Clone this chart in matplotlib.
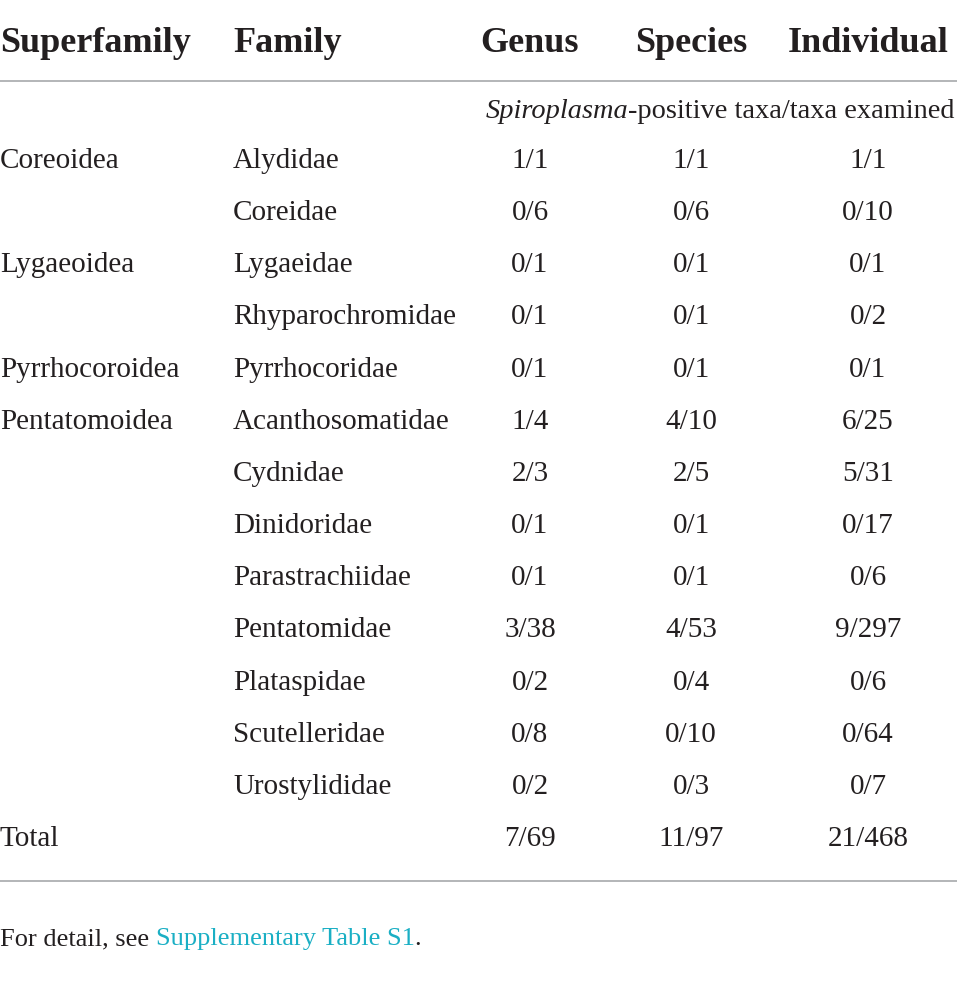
import matplotlib.pyplot as plt

# Table content
headers = ['Superfamily', 'Family', 'Genus', 'Species', 'Individual']
superfamilies = ['Coreoidea', '', 'Lygaeoidea', '', 'Pyrrhocoroidea', 'Pentatomoidea',
                 '', '', '', '', '', '', '', 'Total']
families = ['Alydidae', 'Coreidae', 'Lygaeidae', 'Rhyparochromidae', 'Pyrrhocoridae',
            'Acanthosomatidae', 'Cydnidae', 'Dinidoridae', 'Parastrachiidae',
            'Pentatomidae', 'Plataspidae', 'Scutelleridae', 'Urostylididae', '']
genus = ['1/1', '0/6', '0/1', '0/1', '0/1', '1/4', '2/3', '0/1', '0/1', '3/38',
         '0/2', '0/8', '0/2', '7/69']
species = ['1/1', '0/6', '0/1', '0/1', '0/1', '4/10', '2/5', '0/1', '0/1', '4/53',
           '0/4', '0/10', '0/3', '11/97']
individual = ['1/1', '0/10', '0/1', '0/2', '0/1', '6/25', '5/31', '0/17', '0/6',
              '9/297', '0/6', '0/64', '0/7', '21/468']

txt = '#231f20'
rule = '#a7a9ac'
link = '#1aafc4'
font = 'Liberation Serif'

fig = plt.figure(figsize=(9.57, 9.84), dpi=100)
ax = fig.add_axes([0, 0, 1, 1])
ax.set_xlim(0, 957)
ax.set_ylim(984, 0)
ax.axis('off')

# header row
hs = 26
ax.text(0, 43, headers[0], fontsize=hs, fontweight='bold', family=font, color=txt, va='center')
ax.text(233, 43, headers[1], fontsize=hs, fontweight='bold', family=font, color=txt, va='center')
col_x = [530, 691, 868]
for x, h in zip(col_x, headers[2:]):
    ax.text(x, 43, h, fontsize=hs, fontweight='bold', family=font, color=txt,
            va='center', ha='center')

ax.plot([0, 957], [81, 81], color=rule, lw=1.2)

bs = 21
# subheader, right aligned to the table edge
ss = 20.4
t0 = ax.text(955, 111, '-positive taxa/taxa examined', fontsize=ss, family=font,
             color=txt, va='center', ha='right')
fig.canvas.draw()
bb = t0.get_window_extent().transformed(ax.transData.inverted())
ax.text(bb.x0, 111, 'Spiroplasma', fontsize=ss, family=font, style='italic',
        color=txt, va='center', ha='right')

y0, dy = 161, 52.15
for i in range(len(families)):
    y = y0 + i * dy
    ax.text(0, y, superfamilies[i], fontsize=bs, family=font, color=txt, va='center')
    ax.text(233, y, families[i], fontsize=bs, family=font, color=txt, va='center')
    for x, col in zip(col_x, [genus, species, individual]):
        ax.text(x, y, col[i], fontsize=bs, family=font, color=txt, va='center', ha='center')

ax.plot([0, 957], [881, 881], color=rule, lw=1.2)

# footnote
fs = 19
t2 = ax.text(0, 939, 'For detail, see ', fontsize=fs, family=font, color=txt, va='center')
fig.canvas.draw()
bb = t2.get_window_extent().transformed(ax.transData.inverted())
t3 = ax.text(bb.x1, 939, 'Supplementary Table S1', fontsize=fs, family=font, color=link, va='center')
fig.canvas.draw()
bb = t3.get_window_extent().transformed(ax.transData.inverted())
ax.text(bb.x1, 939, '.', fontsize=fs, family=font, color=txt, va='center')

fig.savefig('out.png', dpi=100, facecolor='white')
